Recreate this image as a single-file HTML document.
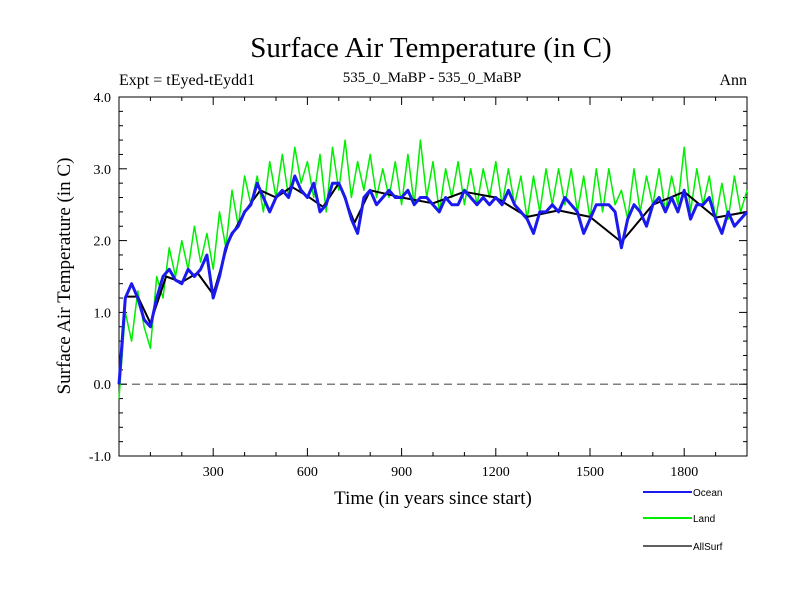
<!DOCTYPE html>
<html><head><meta charset="utf-8"><style>
body{margin:0;background:#fff}
svg{display:block}
text{font-family:"Liberation Serif",serif;fill:#000}
.leg{font-family:"Liberation Sans",sans-serif;font-size:10px}
</style></head><body>
<svg id="chart" width="800" height="600">
<text x="431" y="57" font-size="29" text-anchor="middle">Surface Air Temperature (in C)</text>
<text x="119" y="85" font-size="16">Expt = tEyed-tEydd1</text>
<text x="432" y="82" font-size="15" text-anchor="middle">535_0_MaBP - 535_0_MaBP</text>
<text x="747" y="85" font-size="16" text-anchor="end">Ann</text>
<text x="433" y="504" font-size="19" text-anchor="middle">Time (in years since start)</text>
<text transform="translate(70,276) rotate(-90)" font-size="19" text-anchor="middle">Surface Air Temperature (in C)</text>
<g id="axes"></g>
<g id="series"></g>
<g id="legend"></g>
</svg>
<script>
const years = [];
for (let i = 0; i <= 100; i++) years.push(i * 20);
const ocean = [0.0,1.2,1.4,1.2,0.9,0.8,1.2,1.5,1.6,1.45,1.4,1.6,1.5,1.6,1.8,1.2,1.5,1.9,2.1,2.2,2.4,2.5,2.8,2.6,2.4,2.6,2.7,2.6,2.9,2.7,2.6,2.8,2.4,2.5,2.8,2.8,2.6,2.3,2.1,2.6,2.7,2.5,2.6,2.7,2.6,2.6,2.7,2.5,2.6,2.6,2.5,2.4,2.6,2.5,2.5,2.7,2.6,2.5,2.6,2.5,2.6,2.5,2.7,2.5,2.4,2.3,2.1,2.4,2.4,2.5,2.4,2.6,2.5,2.4,2.1,2.3,2.5,2.5,2.5,2.4,1.9,2.3,2.5,2.4,2.2,2.5,2.6,2.4,2.6,2.4,2.7,2.3,2.5,2.5,2.6,2.3,2.1,2.4,2.2,2.3,2.4];
const land = [-0.2,1.0,0.6,1.3,0.8,0.5,1.5,1.2,1.9,1.5,2.0,1.6,2.2,1.7,2.1,1.6,2.4,1.9,2.7,2.2,2.9,2.5,2.9,2.4,3.1,2.6,3.2,2.6,3.3,2.8,3.1,2.6,3.2,2.4,3.3,2.7,3.4,2.6,3.1,2.7,3.2,2.6,3.0,2.6,3.1,2.5,3.2,2.5,3.4,2.6,3.1,2.4,3.0,2.6,3.1,2.5,3.0,2.5,3.0,2.6,3.1,2.5,3.0,2.5,2.9,2.3,2.9,2.4,3.0,2.5,3.0,2.5,3.0,2.4,2.9,2.3,3.0,2.4,3.0,2.5,2.7,2.3,3.0,2.4,2.9,2.5,3.0,2.4,2.9,2.5,3.3,2.4,3.0,2.5,2.9,2.3,2.8,2.3,2.9,2.4,2.7];
const allYears = [0,20,60,100,150,200,250,300,350,400,450,500,550,600,650,700,750,800,900,1000,1100,1200,1300,1400,1500,1600,1700,1800,1900,2000];
const allSurf = [0.0,1.22,1.22,0.85,1.5,1.42,1.55,1.25,2.0,2.4,2.7,2.6,2.75,2.62,2.47,2.8,2.25,2.7,2.6,2.52,2.68,2.6,2.33,2.42,2.33,1.98,2.5,2.68,2.32,2.4];
const yTicks = [-1.0,0.0,1.0,2.0,3.0,4.0];
const xTicks = [300,600,900,1200,1500,1800];

const NS="http://www.w3.org/2000/svg";
const X0=119,X1=747,Y0=97,Y1=456;
const xs=v=>X0+(v-0)/(2000-0)*(X1-X0);
const ys=v=>Y1-(v+1)/5*(Y1-Y0);
function mk(tag,attrs,parent){const e=document.createElementNS(NS,tag);for(const k in attrs)e.setAttribute(k,attrs[k]);parent.appendChild(e);return e;}
const ax=document.getElementById('axes');
const fr=mk('rect',{x:X0,y:Y0,width:X1-X0,height:Y1-Y0,fill:'none',stroke:'#000','stroke-width':1},ax);


const zl=mk('line',{x1:X0,x2:X1,y1:ys(0),y2:ys(0),stroke:'#555','stroke-width':1.2,'stroke-dasharray':'8,5'},ax);


for(let v=100;v<2000;v+=100){const big=v%300===0;const l=big?8:4;
 mk('line',{x1:xs(v),x2:xs(v),y1:Y1,y2:Y1-l,stroke:'#000'},ax);
 mk('line',{x1:xs(v),x2:xs(v),y1:Y0,y2:Y0+l,stroke:'#000'},ax);}
for(let i=0;i<=25;i++){const v=-1+i*0.2;const big=i%5===0;const l=big?8:4;
 mk('line',{x1:X0,x2:X0+l,y1:ys(v),y2:ys(v),stroke:'#000'},ax);
 mk('line',{x1:X1,x2:X1-l,y1:ys(v),y2:ys(v),stroke:'#000'},ax);}
xTicks.forEach(v=>{const t=mk('text',{x:xs(v),y:476,'font-size':14,'text-anchor':'middle'},ax);t.textContent=v;
 
 });
yTicks.forEach(v=>{const t=mk('text',{x:111,y:ys(v)+5,'font-size':14,'text-anchor':'end'},ax);t.textContent=v.toFixed(1);
 
 });
const sg=document.getElementById('series');
function line(xa,ya,color,w,name){const d=xa.map((x,i)=>(i?'L':'M')+xs(x).toFixed(1)+','+ys(ya[i]).toFixed(1)).join('');
 const p=mk('path',{d:d,fill:'none',stroke:color,'stroke-width':w,'stroke-linejoin':'round'},sg);
 
 }
line(years,land,'#00ee00',1.5,'land-line');
line(allYears,allSurf,'#000',2,'allsurf-line');
line(years,ocean,'#1a1aee',3,'ocean-line');
const lg=document.getElementById('legend');
[['Ocean','#1a1aee',2,492],['Land','#00ee00',2,518],['AllSurf','#000',1.2,546]].forEach(([n,c,w,y])=>{
 const l=mk('line',{x1:643,x2:692,y1:y,y2:y,stroke:c,'stroke-width':w},lg);
 
 
 const t=mk('text',{x:693,y:y+4,class:'leg'},lg);t.textContent=n;
 
 });
</script>
</body></html>
